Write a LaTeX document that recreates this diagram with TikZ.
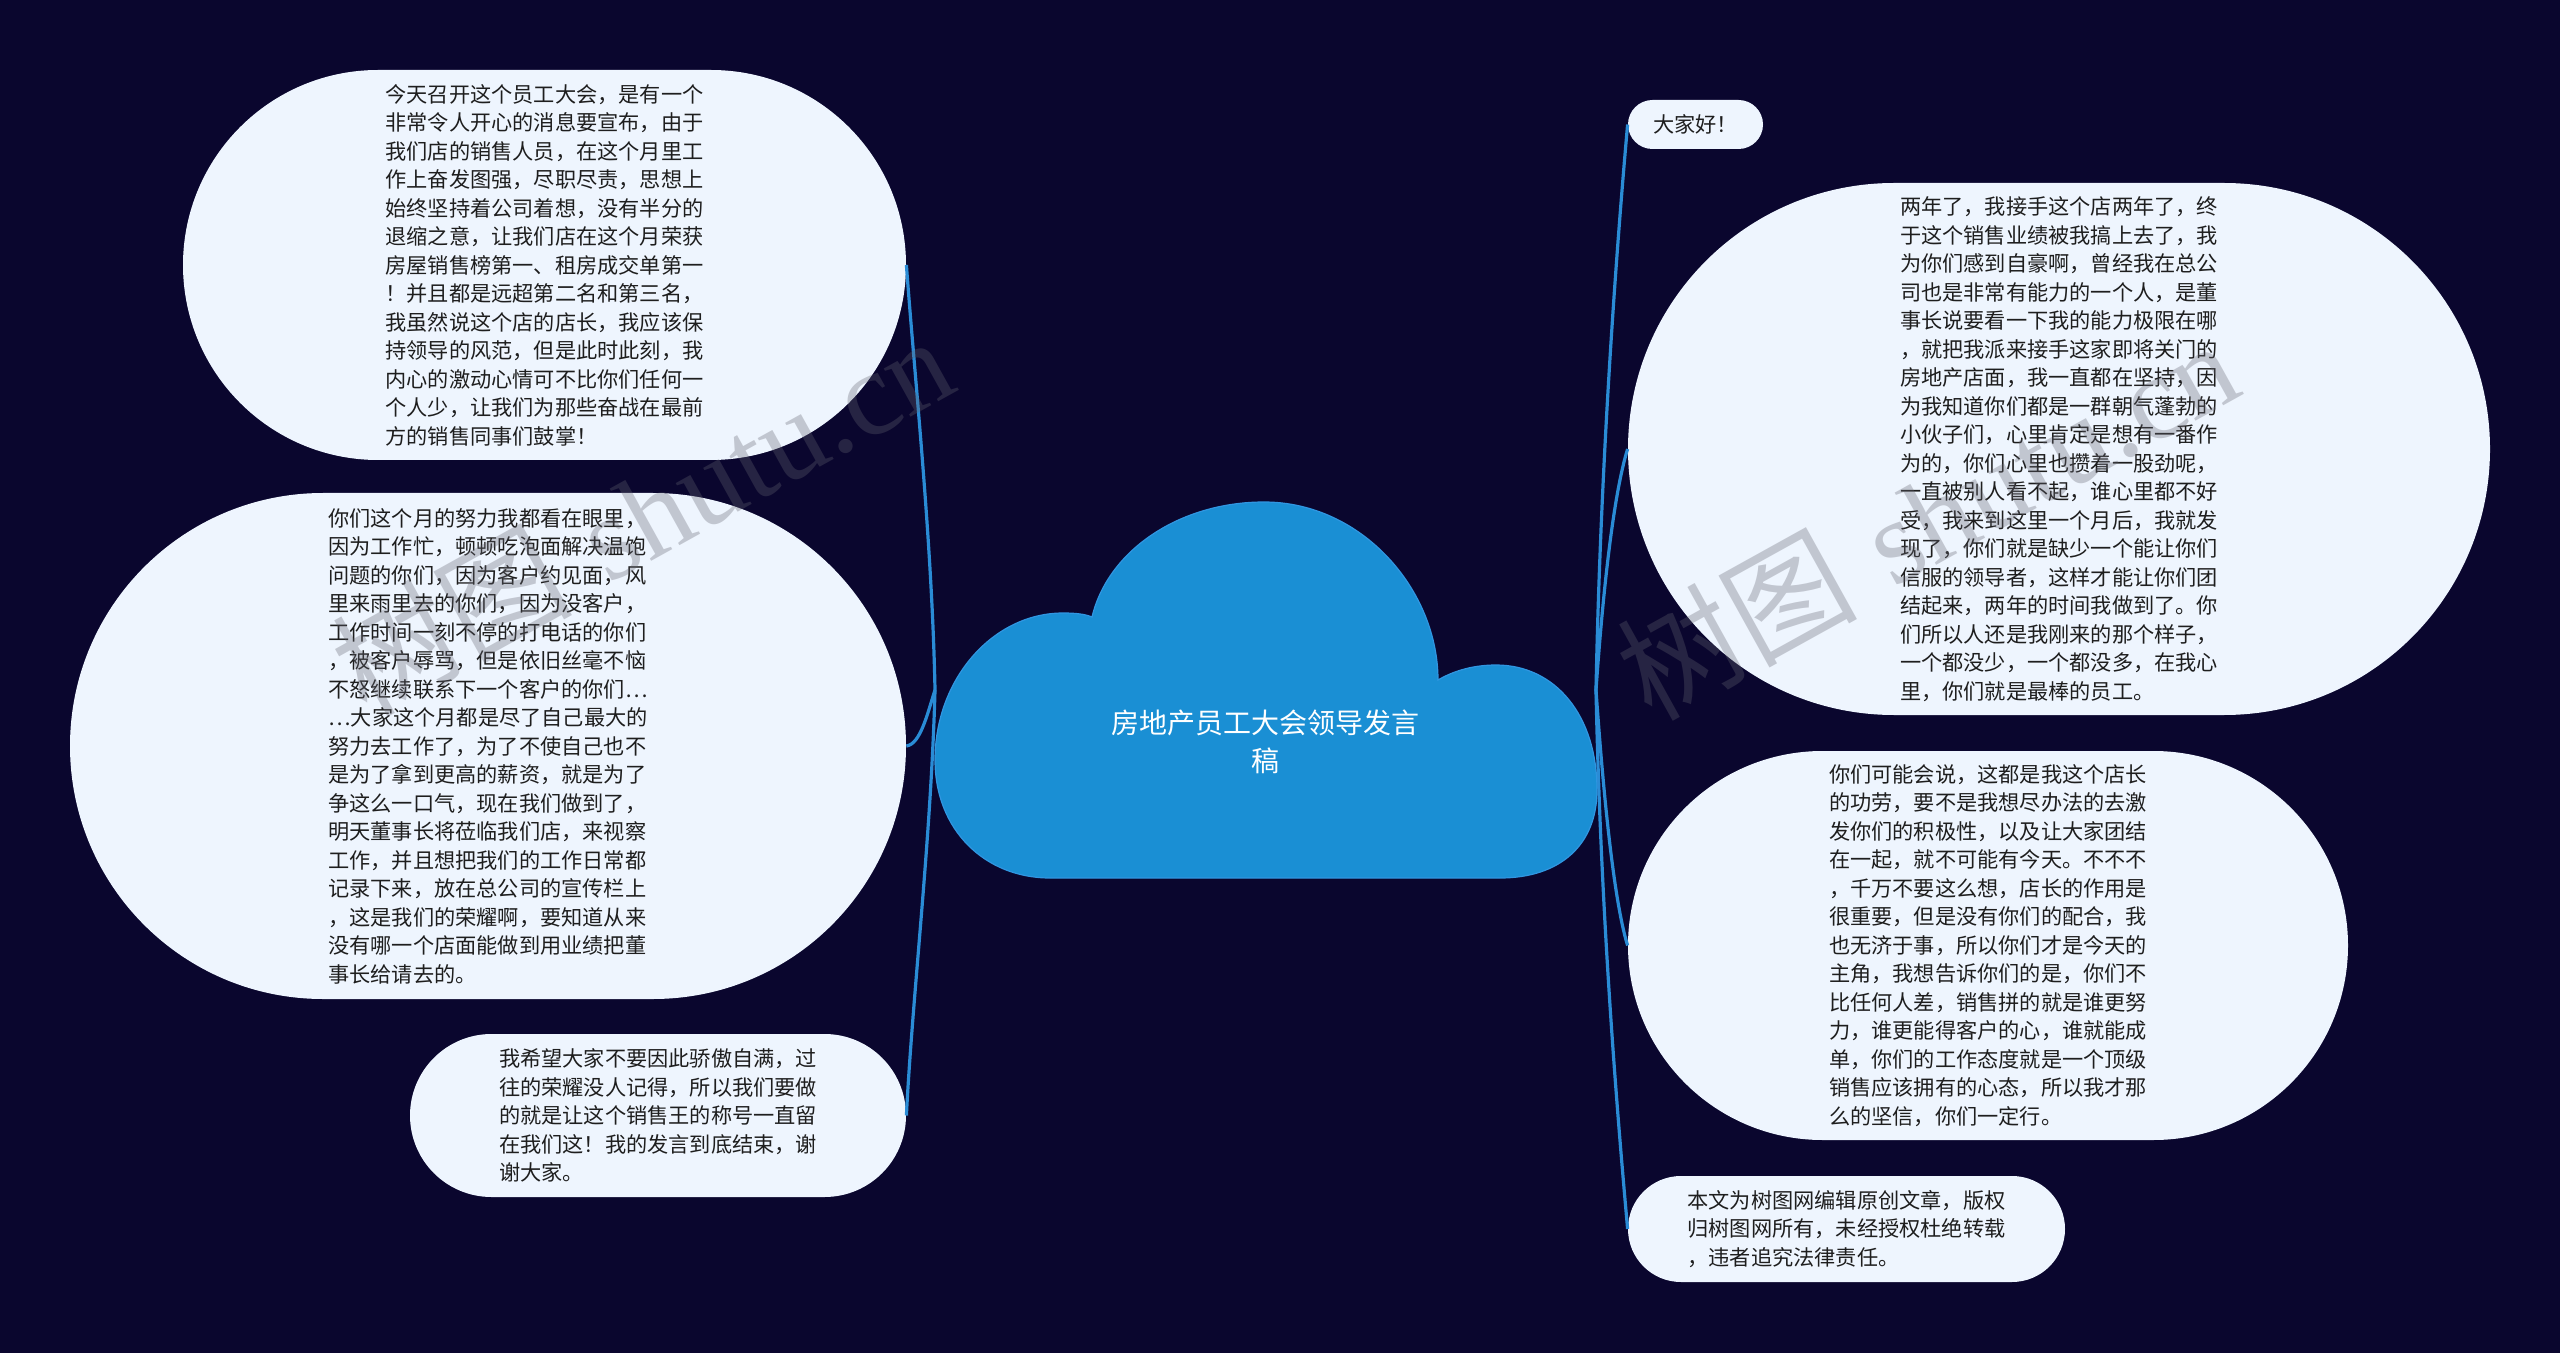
\documentclass[tikz,border=0pt]{standalone}
\usepackage{fontspec}
\newfontfamily\cjk{Noto Sans CJK SC}
\newfontfamily\wmlatin{Liberation Serif}
\definecolor{bgnavy}{RGB}{10,6,46}
\definecolor{cloudblue}{RGB}{26,143,212}
\definecolor{cloudedge}{RGB}{48,150,225}
\definecolor{leaffill}{RGB}{238,245,254}
\definecolor{leaftext}{RGB}{30,30,30}
\definecolor{linkblue}{RGB}{42,140,214}
\definecolor{wmgray}{RGB}{100,100,112}
\begin{document}
\begin{tikzpicture}[x=0.5pt,y=-0.5pt,
  leaf/.style={fill=leaffill, draw=none, inner sep=0pt, align=left, text=leaftext,
    font=\cjk\fontsize{10.6pt}{14.25pt}\selectfont},
  roottext/.style={inner sep=0pt, align=center, text=white,
    font=\cjk\fontsize{14pt}{19pt}\selectfont},
  link/.style={draw=linkblue, line width=1.6pt},
  wm/.style={text=wmgray, text opacity=0.32, rotate=29, inner sep=0pt,
    font=\fontsize{60pt}{60pt}\selectfont}]
\useasboundingbox (0,0) rectangle (2560,1353);
\fill[bgnavy] (0,0) rectangle (2560,1353);

% central cloud
\filldraw[fill=cloudblue, draw=cloudedge, line width=0.6pt]
  (1050,878) .. controls (985,878) and (935,830) .. (935,760)
  .. controls (935,679) and (993,613) .. (1063,613)
  .. controls (1075,613) and (1085,614) .. (1092,617)
  .. controls (1108,550) and (1180,502) .. (1264,502)
  .. controls (1362,502) and (1438,590) .. (1438,680)
  .. controls (1455,670) and (1475,665) .. (1496,665)
  .. controls (1555,665) and (1597,715) .. (1597,790)
  .. controls (1597,845) and (1560,878) .. (1500,878) -- cycle;
\node[roottext] (root) at (1265,742) {房地产员工大会领导发言\\稿};

\coordinate (JL) at (935,690);
\coordinate (JR) at (1596,690);

% left leaves
\node[leaf, minimum width=361.5pt, minimum height=195pt, rounded corners=97.5pt] (A) at (544.5,265) {今天召开这个员工大会，是有一个\\非常令人开心的消息要宣布，由于\\我们店的销售人员，在这个月里工\\作上奋发图强，尽职尽责，思想上\\始终坚持着公司着想，没有半分的\\退缩之意，让我们店在这个月荣获\\房屋销售榜第一、租房成交单第一\\！并且都是远超第二名和第三名，\\我虽然说这个店的店长，我应该保\\持领导的风范，但是此时此刻，我\\内心的激动心情可不比你们任何一\\个人少，让我们为那些奋战在最前\\方的销售同事们鼓掌！};

\node[leaf, minimum width=418pt, minimum height=253pt, rounded corners=126.5pt] (B) at (488,746) {你们这个月的努力我都看在眼里，\\因为工作忙，顿顿吃泡面解决温饱\\问题的你们，因为客户约见面，风\\里来雨里去的你们，因为没客户，\\工作时间一刻不停的打电话的你们\\，被客户辱骂，但是依旧丝毫不恼\\不怒继续联系下一个客户的你们…\\…大家这个月都是尽了自己最大的\\努力去工作了，为了不使自己也不\\是为了拿到更高的薪资，就是为了\\争这么一口气，现在我们做到了，\\明天董事长将莅临我们店，来视察\\工作，并且想把我们的工作日常都\\记录下来，放在总公司的宣传栏上\\，这是我们的荣耀啊，要知道从来\\没有哪一个店面能做到用业绩把董\\事长给请去的。};

\node[leaf, minimum width=248pt, minimum height=81.5pt, rounded corners=40.75pt] (C) at (658,1115.5) {我希望大家不要因此骄傲自满，过\\往的荣耀没人记得，所以我们要做\\的就是让这个销售王的称号一直留\\在我们这！我的发言到底结束，谢\\谢大家。};

% right leaves
\node[leaf, minimum width=67.5pt, minimum height=24.5pt, rounded corners=12.25pt] (D) at (1695.5,124.5) {大家好！};

\node[leaf, minimum width=431pt, minimum height=266pt, rounded corners=133pt] (E) at (2059,449) {两年了，我接手这个店两年了，终\\于这个销售业绩被我搞上去了，我\\为你们感到自豪啊，曾经我在总公\\司也是非常有能力的一个人，是董\\事长说要看一下我的能力极限在哪\\，就把我派来接手这家即将关门的\\房地产店面，我一直都在坚持，因\\为我知道你们都是一群朝气蓬勃的\\小伙子们，心里肯定是想有一番作\\为的，你们心里也攒着一股劲呢，\\一直被别人看不起，谁心里都不好\\受，我来到这里一个月后，我就发\\现了，你们就是缺少一个能让你们\\信服的领导者，这样才能让你们团\\结起来，两年的时间我做到了。你\\们所以人还是我刚来的那个样子，\\一个都没少，一个都没多，在我心\\里，你们就是最棒的员工。};

\node[leaf, minimum width=360pt, minimum height=194.5pt, rounded corners=97.25pt] (F) at (1988,945.5) {你们可能会说，这都是我这个店长\\的功劳，要不是我想尽办法的去激\\发你们的积极性，以及让大家团结\\在一起，就不可能有今天。不不不\\，千万不要这么想，店长的作用是\\很重要，但是没有你们的配合，我\\也无济于事，所以你们才是今天的\\主角，我想告诉你们的是，你们不\\比任何人差，销售拼的就是谁更努\\力，谁更能得客户的心，谁就能成\\单，你们的工作态度就是一个顶级\\销售应该拥有的心态，所以我才那\\么的坚信，你们一定行。};

\node[leaf, minimum width=218.5pt, minimum height=53pt, rounded corners=26.5pt] (G) at (1846.5,1229) {本文为树图网编辑原创文章，版权\\归树图网所有，未经授权杜绝转载\\，违者追究法律责任。};

% connectors
\draw[link] (JL) .. controls +(-3,-150) and +(8,110) .. (A.east);
\draw[link] (JL) .. controls +(-8,25) and +(14,-2) .. (B.east);
\draw[link] (JL) .. controls +(-4,150) and +(6,-120) .. (C.east);
\draw[link] (JR) .. controls +(5,-250) and +(-8,90) .. (D.west);
\draw[link] (JR) .. controls +(7,-100) and +(-14,45) .. (E.west);
\draw[link] (JR) .. controls +(7,100) and +(-14,-45) .. (F.west);
\draw[link] (JR) .. controls +(5,240) and +(-8,-90) .. (G.west);

% watermarks
\node[wm] (wmL) at (642,514) {{\cjk 树图} {\wmlatin shutu.cn}};
\node[wm] (wmR) at (1927,518) {{\cjk 树图} {\wmlatin shutu.cn}};
\end{tikzpicture}
\end{document}
